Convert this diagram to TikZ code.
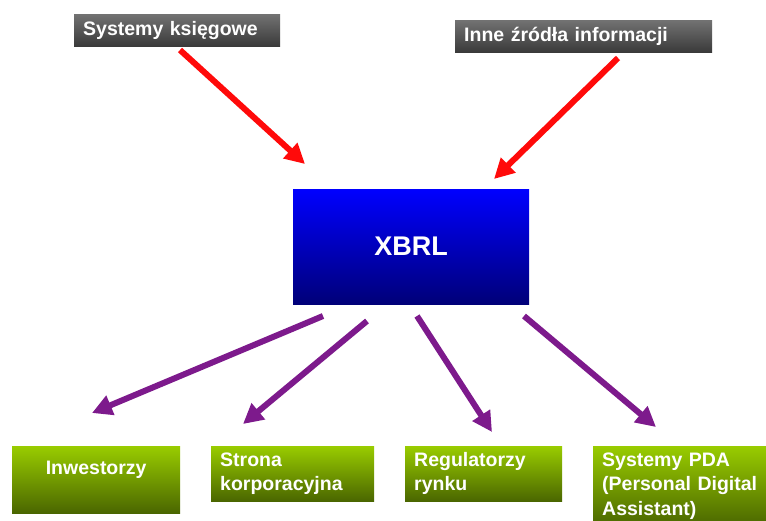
\documentclass[tikz,border=0pt]{standalone}
\usepackage{fontspec}
\setmainfont{Liberation Sans}
\usetikzlibrary{arrows.meta}
\definecolor{grtop}{HTML}{727272}
\definecolor{grbot}{HTML}{3A3A3A}
\definecolor{bltop}{HTML}{0000FF}
\definecolor{blbot}{HTML}{000078}
\definecolor{gntop}{HTML}{99CC00}
\definecolor{gnbot}{HTML}{4A6600}
\definecolor{arrred}{HTML}{FF0A0A}
\definecolor{arrpurple}{HTML}{7D1A8C}
\tikzset{
  boxtext/.style={text=white,font=\fontsize{19.5}{24.5}\selectfont\bfseries,
    anchor=north west,inner xsep=9pt,inner ysep=2pt,align=left},
  srcbox/.style={boxtext,top color=grtop,bottom color=grbot,minimum height=32pt},
  userbox/.style={boxtext,top color=gntop,bottom color=gnbot},
  xbrlbox/.style={anchor=north west,top color=bltop,bottom color=blbot,text=white,
    font=\fontsize{27}{32}\selectfont\bfseries,minimum width=236pt,minimum height=115pt},
  inarrow/.style={draw=arrred,line width=6pt,-{Triangle[length=20pt,width=20pt]}},
  outarrow/.style={draw=arrpurple,line width=6pt,-{Triangle[length=20pt,width=20pt]}}
}
\begin{document}
\begin{tikzpicture}[x=1pt,y=-1pt]
\useasboundingbox (0,0) rectangle (766,520);
\clip (0,0) rectangle (766,520);
% sources
\node[srcbox,text width=188pt] (ksieg) at (74,14) {Systemy księgowe};
\node[srcbox,text width=239pt] (inne) at (455,20) {Inne źródła informacji};
% centre
\node[xbrlbox] (xbrl) at (293,189) {XBRL};
% receivers
\node[userbox,text width=150pt,align=center,minimum height=67pt] (inw) at (12,446) {Inwestorzy\\\mbox{}};
\node[userbox,text width=145pt,minimum height=55pt] (strona) at (211,446) {Strona\\korporacyjna};
\node[userbox,text width=139pt,minimum height=55pt] (regul) at (405,446) {Regulatorzy\\rynku};
\node[userbox,text width=170pt,minimum height=80pt] (pda) at (593,446) {Systemy PDA\\(Personal Digital\\Assistant)};
% arrow ends
\coordinate (ks0) at (180,50);
\coordinate (ks1) at (305,164);
\coordinate (in0) at (618,58);
\coordinate (in1) at (494,179);
\coordinate (o1a) at (323,316);
\coordinate (o1b) at (92,413);
\coordinate (o2a) at (367,321);
\coordinate (o2b) at (243,424);
\coordinate (o3a) at (417,316);
\coordinate (o3b) at (492,432);
\coordinate (o4a) at (524,316);
\coordinate (o4b) at (656,427);
\draw[inarrow] (ks0) -- (ks1);
\draw[inarrow] (in0) -- (in1);
\draw[outarrow] (o1a) -- (o1b);
\draw[outarrow] (o2a) -- (o2b);
\draw[outarrow] (o3a) -- (o3b);
\draw[outarrow] (o4a) -- (o4b);
\end{tikzpicture}
\end{document}
